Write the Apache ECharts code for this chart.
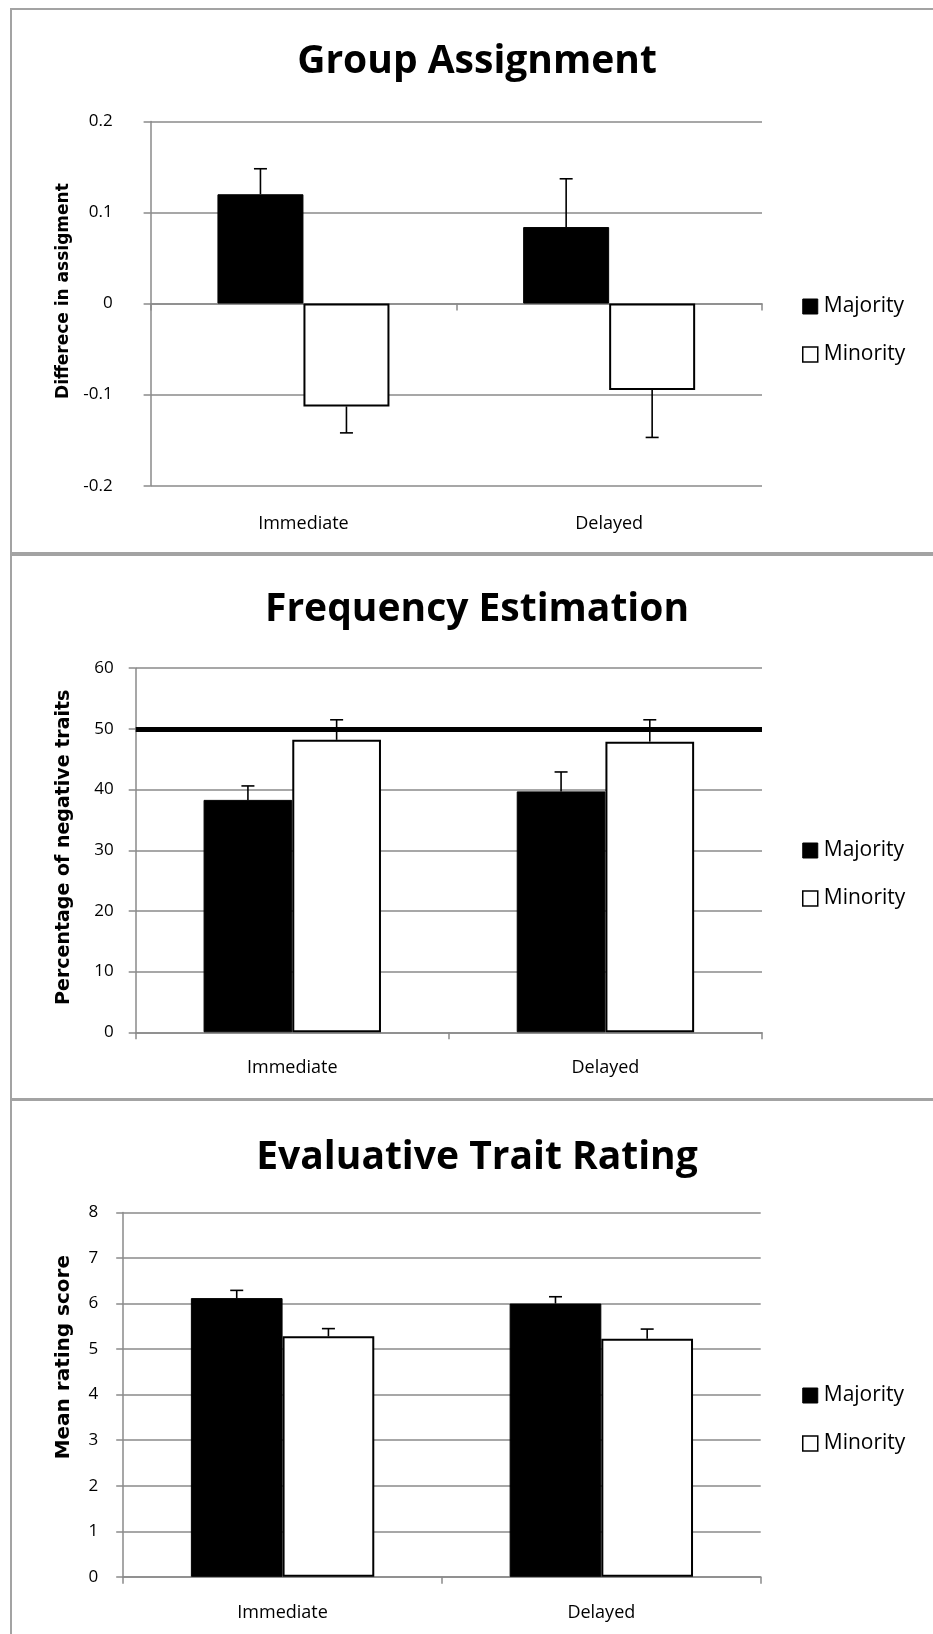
<!DOCTYPE html>
<html><head><meta charset="utf-8">
<script src="https://cdn.jsdelivr.net/npm/echarts/dist/echarts.min.js"></script>
<style>html,body{margin:0;padding:0;background:#fff}#c{width:933px;height:1634px}</style>
</head><body><div id="c"></div>
<script>
// ---- data ----
const categories = ['Immediate', 'Delayed'];
const seriesNames = ['Majority', 'Minority'];

const groupMajority = [0.12, 0.084];
const groupMajorityErr = [0.028, 0.053];
const groupMinority = [-0.113, -0.095];
const groupMinorityErr = [0.029, 0.052];
const groupTicks = [-0.2, 0.2, 0.1];   // min, max, interval

const freqMajority = [38.3, 39.7];
const freqMajorityErr = [2.3, 3.2];
const freqMinority = [48.2, 47.9];
const freqMinorityErr = [3.3, 3.6];
const freqTicks = [0, 60, 10];
const freqReference = [50];

const evalMajority = [6.12, 6.0];
const evalMajorityErr = [0.17, 0.15];
const evalMinority = [5.28, 5.23];
const evalMinorityErr = [0.17, 0.21];
const evalTicks = [0, 8, 1];

// ---- layout ----
const GRAY = '#8a8a8a';
const panels = [
  { title: 'Group Assignment', yName: 'Differece in assigment', maj: groupMajority, majErr: groupMajorityErr,
    min: groupMinority, minErr: groupMinorityErr, ticks: groupTicks, ref: null,
    grid: { left: 150.6, top: 121.4, width: 611.4, height: 364.3 }, titleY: 62, legendTop: 291,
    nameGap: 77, nameSize: 17, nameShift: 25, barW: 86, labelMargin: 38, catMargin: 29, box: [11, 9, 960, 544] },
  { title: 'Frequency Estimation', yName: 'Percentage of negative traits', maj: freqMajority, majErr: freqMajorityErr,
    min: freqMinority, minErr: freqMinorityErr, ticks: freqTicks, ref: freqReference,
    grid: { left: 135.7, top: 668.2, width: 626.3, height: 364.1 }, titleY: 610, legendTop: 835,
    nameGap: 62, nameSize: 19, nameShift: 6, barW: 88.7, labelMargin: 22, catMargin: 27, box: [11, 555, 960, 544] },
  { title: 'Evaluative Trait Rating', yName: 'Mean rating score', maj: evalMajority, majErr: evalMajorityErr,
    min: evalMinority, minErr: evalMinorityErr, ticks: evalTicks, ref: null,
    grid: { left: 123.2, top: 1212.5, width: 637.5, height: 364.3 }, titleY: 1158, legendTop: 1380,
    nameGap: 49, nameSize: 20, nameShift: 75, barW: 91.7, labelMargin: 25, catMargin: 27, box: [11, 1100, 960, 600] }
];

function errorRender(side, barW) {
  return function (params, api) {
    const cat = api.value(0), mean = api.value(1), err = api.value(2);
    const dir = mean >= 0 ? 1 : -1;
    const base = api.coord([cat, mean]);
    const tip = api.coord([cat, mean + dir * err]);
    const x = base[0] + side * barW / 2;
    const half = 6.5;
    const st = { stroke: '#000', lineWidth: 1.6 };
    return { type: 'group', children: [
      { type: 'line', shape: { x1: x, y1: base[1], x2: x, y2: tip[1] }, style: st },
      { type: 'line', shape: { x1: x - half, y1: tip[1], x2: x + half, y2: tip[1] }, style: st }
    ] };
  };
}

const option = { animation: false, backgroundColor: '#fff',
  grid: [], xAxis: [], yAxis: [], series: [], legend: [], graphic: [] };

const axisFont = { fontFamily: 'Open Sans', fontSize: 17, color: '#000' };

panels.forEach((p, i) => {
  option.grid.push(Object.assign({ containLabel: false }, p.grid));
  option.graphic.push({ type: 'rect', shape: { x: p.box[0], y: p.box[1], width: p.box[2], height: p.box[3] },
    style: { fill: 'none', stroke: '#a3a3a3', lineWidth: 2 }, silent: true, z: -10 });
  option.graphic.push({ type: 'text', x: 477, y: p.titleY, silent: true,
    style: { text: p.title, fontFamily: 'Open Sans', fontWeight: 'bold', fontSize: 39, fill: '#000',
      textAlign: 'center', textVerticalAlign: 'middle' } });

  const xi = option.xAxis.length;
  const isNeg = p.ticks[0] < 0;
  option.xAxis.push({ type: 'category', gridIndex: i, data: categories, position: 'bottom',
    axisLine: { show: true, onZero: true, lineStyle: { color: GRAY, width: 1.5 } },
    axisTick: { show: true, inside: false, length: 7, alignWithLabel: false, lineStyle: { color: GRAY, width: 1.5 } },
    axisLabel: { show: !isNeg, margin: p.catMargin, ...axisFont, fontSize: 18 },
    splitLine: { show: false } });
  if (isNeg) {
    option.xAxis.push({ type: 'category', gridIndex: i, data: categories, position: 'bottom',
      axisLine: { show: false, onZero: false }, axisTick: { show: false },
      axisLabel: { show: true, margin: p.catMargin, ...axisFont, fontSize: 18 }, splitLine: { show: false } });
  }
  const yi = option.yAxis.length;
  option.yAxis.push({ type: 'value', gridIndex: i, min: p.ticks[0], max: p.ticks[1], interval: p.ticks[2],
    name: p.yName, nameLocation: 'middle', nameGap: p.nameGap,
    nameTextStyle: { fontFamily: 'DejaVu Sans', fontWeight: 'bold', fontSize: p.nameSize, color: '#000',
      padding: [0, 0, 0, p.nameShift] },
    axisLine: { show: true, lineStyle: { color: GRAY, width: 1.5 } },
    axisTick: { show: true, inside: false, length: 7, lineStyle: { color: GRAY, width: 1.5 } },
    axisLabel: { margin: p.labelMargin, ...axisFont },
    splitLine: { show: true, lineStyle: { color: GRAY, width: 1.5 } } });

  const majSeries = { name: seriesNames[0], type: 'bar', xAxisIndex: xi, yAxisIndex: yi, data: p.maj,
    barWidth: p.barW, barGap: '0%', itemStyle: { color: '#000', borderColor: '#000', borderWidth: 1 }, z: 2 };
  if (p.ref) {
    majSeries.markLine = { silent: true, symbol: 'none', label: { show: false }, animation: false,
      lineStyle: { color: '#000', width: 5, type: 'solid' },
      data: p.ref.map(v => ({ yAxis: v })) };
  }
  option.series.push(majSeries);
  option.series.push({ name: seriesNames[1], type: 'bar', xAxisIndex: xi, yAxisIndex: yi, data: p.min,
    barWidth: p.barW, barGap: '0%', itemStyle: { color: '#fff', borderColor: '#000', borderWidth: 2 }, z: 2 });
  option.series.push({ name: 'err-maj-' + i, type: 'custom', xAxisIndex: xi, yAxisIndex: yi, z: 5,
    renderItem: errorRender(-1, p.barW), data: p.maj.map((v, k) => [k, v, p.majErr[k]]) });
  option.series.push({ name: 'err-min-' + i, type: 'custom', xAxisIndex: xi, yAxisIndex: yi, z: 5,
    renderItem: errorRender(1, p.barW), data: p.min.map((v, k) => [k, v, p.minErr[k]]) });

  option.legend.push({ orient: 'vertical', left: 797, top: p.legendTop, itemWidth: 15, itemHeight: 15,
    itemGap: 27, icon: 'rect', selectedMode: false,
    textStyle: { fontFamily: 'Open Sans', fontSize: 21, color: '#000', padding: [0, 0, 0, 1] },
    data: [
      { name: seriesNames[0], itemStyle: { color: '#000', borderColor: '#000', borderWidth: 1 } },
      { name: seriesNames[1], itemStyle: { color: '#fff', borderColor: '#000', borderWidth: 1.5 } }
    ] });
});

const chart = echarts.init(document.getElementById('c'), null, { renderer: 'canvas' });
chart.setOption(option);
</script>
</body></html>
